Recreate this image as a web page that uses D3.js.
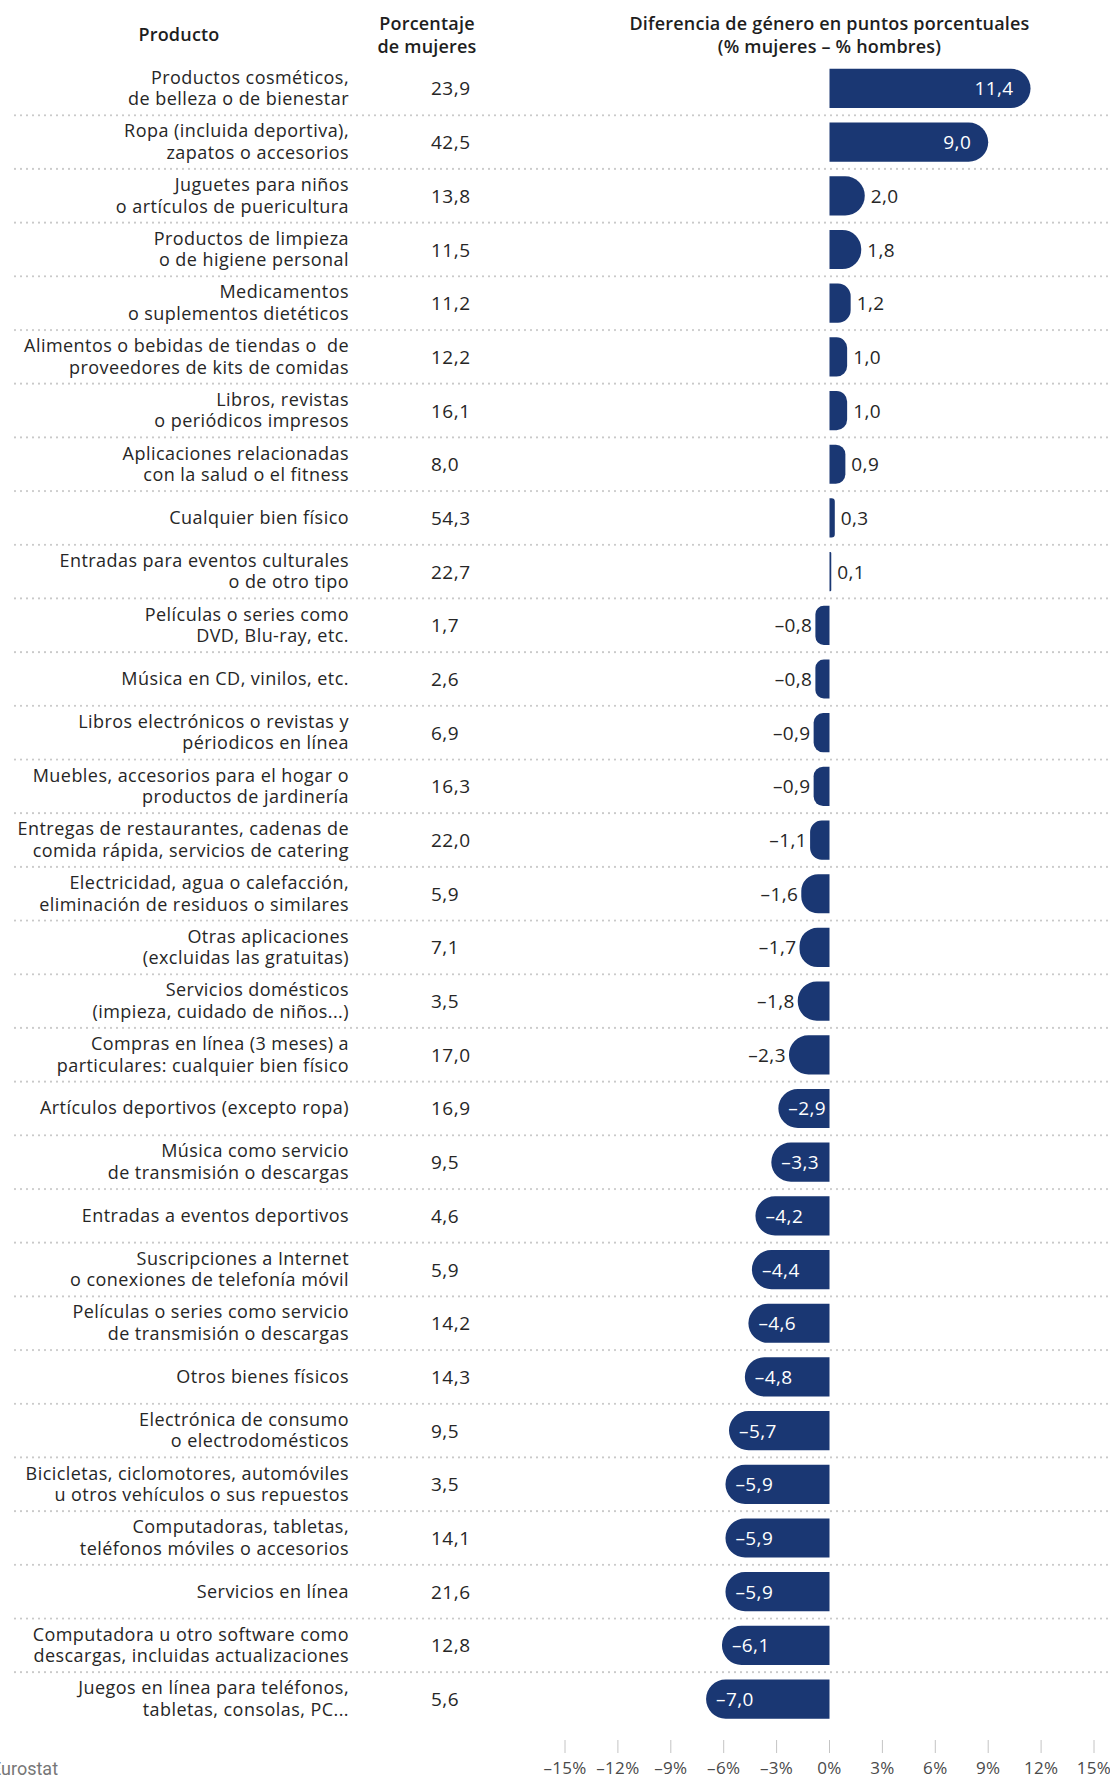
<!DOCTYPE html>
<html>
<head>
<meta charset="utf-8">
<script src="https://cdn.jsdelivr.net/npm/d3@7"></script>
<style>
  body { margin: 0; background: #fff; }
  svg { display: block; font-family: "Open Sans", "Noto Sans", sans-serif; }
</style>
</head>
<body>
<div id="chart"></div>
<script>
const productos = [
  ["Productos cosméticos,", "de belleza o de bienestar"],
  ["Ropa (incluida deportiva),", "zapatos o accesorios"],
  ["Juguetes para niños", "o artículos de puericultura"],
  ["Productos de limpieza", "o de higiene personal"],
  ["Medicamentos", "o suplementos dietéticos"],
  ["Alimentos o bebidas de tiendas o  de", "proveedores de kits de comidas"],
  ["Libros, revistas", "o periódicos impresos"],
  ["Aplicaciones relacionadas", "con la salud o el fitness"],
  ["Cualquier bien físico"],
  ["Entradas para eventos culturales", "o de otro tipo"],
  ["Películas o series como", "DVD, Blu-ray, etc."],
  ["Música en CD, vinilos, etc."],
  ["Libros electrónicos o revistas y", "périodicos en línea"],
  ["Muebles, accesorios para el hogar o", "productos de jardinería"],
  ["Entregas de restaurantes, cadenas de", "comida rápida, servicios de catering"],
  ["Electricidad, agua o calefacción,", "eliminación de residuos o similares"],
  ["Otras aplicaciones", "(excluidas las gratuitas)"],
  ["Servicios domésticos", "(impieza, cuidado de niños...)"],
  ["Compras en línea (3 meses) a", "particulares: cualquier bien físico"],
  ["Artículos deportivos (excepto ropa)"],
  ["Música como servicio", "de transmisión o descargas"],
  ["Entradas a eventos deportivos"],
  ["Suscripciones a Internet", "o conexiones de telefonía móvil"],
  ["Películas o series como servicio", "de transmisión o descargas"],
  ["Otros bienes físicos"],
  ["Electrónica de consumo", "o electrodomésticos"],
  ["Bicicletas, ciclomotores, automóviles", "u otros vehículos o sus repuestos"],
  ["Computadoras, tabletas,", "teléfonos móviles o accesorios"],
  ["Servicios en línea"],
  ["Computadora u otro software como", "descargas, incluidas actualizaciones"],
  ["Juegos en línea para teléfonos,", "tabletas, consolas, PC..."]
];

const porcentajeMujeres = [23.9, 42.5, 13.8, 11.5, 11.2, 12.2, 16.1, 8.0, 54.3, 22.7,
  1.7, 2.6, 6.9, 16.3, 22.0, 5.9, 7.1, 3.5, 17.0, 16.9,
  9.5, 4.6, 5.9, 14.2, 14.3, 9.5, 3.5, 14.1, 21.6, 12.8, 5.6];

const diferencia = [11.4, 9.0, 2.0, 1.8, 1.2, 1.0, 1.0, 0.9, 0.3, 0.1,
  -0.8, -0.8, -0.9, -0.9, -1.1, -1.6, -1.7, -1.8, -2.3, -2.9,
  -3.3, -4.2, -4.4, -4.6, -4.8, -5.7, -5.9, -5.9, -5.9, -6.1, -7.0];

const ticks = [-15, -12, -9, -6, -3, 0, 3, 6, 9, 12, 15];

const width = 1110, height = 1780;
const barColor = "#1a3773";
const textColor = "#262626";

const data = productos.map((p, i) => ({
  id: i,
  lines: p,
  mujeres: porcentajeMujeres[i],
  dif: diferencia[i]
}));

const fmt = v => d3.format(".1f")(Math.abs(v)).replace(".", ",");
const fmtSigned = v => (v < 0 ? "\u2013" : "") + fmt(v);

const svg = d3.select("#chart")
  .append("svg")
  .attr("width", width)
  .attr("height", height);

const x = d3.scaleLinear().domain([-15, 15]).range([565, 1094]);

const y = d3.scaleBand()
  .domain(data.map(d => d.id))
  .range([61.6, 1725.9])
  .paddingInner(0.27)
  .paddingOuter(0.135);

// cabeceras
const header = svg.append("g")
  .attr("fill", "#1e1e1e")
  .style("font-size", "18px")
  .style("font-weight", 600)
  .style("letter-spacing", "0.2px")
  .attr("text-anchor", "middle");

header.append("text").attr("x", 179).attr("y", 41).text("Producto");
header.append("text").attr("x", 427).attr("y", 30).text("Porcentaje");
header.append("text").attr("x", 427).attr("y", 53).text("de mujeres");
header.append("text").attr("x", x(0)).attr("y", 30).text("Diferencia de género en puntos porcentuales");
header.append("text").attr("x", x(0)).attr("y", 53).text("(% mujeres \u2013 % hombres)");

// separadores punteados entre filas
svg.append("g")
  .selectAll("line")
  .data(data.slice(1))
  .join("line")
  .attr("x1", 15)
  .attr("x2", width)
  .attr("y1", d => y(d.id) - y.step() * y.paddingInner() / 2)
  .attr("y2", d => y(d.id) - y.step() * y.paddingInner() / 2)
  .attr("stroke", "#c9c9c9")
  .attr("stroke-width", 2.2)
  .attr("stroke-linecap", "round")
  .attr("stroke-dasharray", "0,6");

const rows = svg.append("g")
  .selectAll("g")
  .data(data)
  .join("g")
  .attr("transform", d => `translate(0,${y(d.id) + y.bandwidth() / 2})`);

// etiquetas de producto
rows.append("text")
  .attr("text-anchor", "end")
  .attr("fill", textColor)
  .style("font-size", "18px")
  .style("letter-spacing", "0.45px")
  .style("white-space", "pre")
  .each(function(d) {
    const t = d3.select(this);
    const n = d.lines.length;
    d.lines.forEach((l, k) => {
      t.append("tspan")
        .attr("x", 349)
        .attr("y", (k - (n - 1) / 2) * 21.5 + 6)
        .text(l);
    });
  });

// porcentaje de mujeres
rows.append("text")
  .attr("x", 431)
  .attr("y", 7)
  .attr("fill", textColor)
  .style("font-size", "19px")
  .style("letter-spacing", "0.5px")
  .text(d => fmt(d.mujeres));

// barras con extremo redondeado
function barPath(d) {
  const h = y.bandwidth();
  const x0 = x(0), x1 = x(d.dif);
  const len = Math.abs(x1 - x0);
  const r = Math.min(h / 2, len * 0.6);
  const s = d.dif >= 0 ? 1 : -1;
  const sweep = s > 0 ? 1 : 0;
  const top = -h / 2, bot = h / 2;
  return `M${x0},${top} H${x1 - s * r} A${r},${r} 0 0 ${sweep} ${x1},${top + r}` +
    ` V${bot - r} A${r},${r} 0 0 ${sweep} ${x1 - s * r},${bot} H${x0} Z`;
}

rows.append("path")
  .attr("d", barPath)
  .attr("fill", barColor);

// etiquetas de valor
const inside = d => Math.abs(x(d.dif) - x(0)) > 45;

rows.append("text")
  .attr("y", 7)
  .style("font-size", "19px")
  .style("letter-spacing", "0.4px")
  .attr("fill", d => inside(d) ? "#fff" : textColor)
  .attr("text-anchor", d => (d.dif >= 0) === inside(d) ? "end" : "start")
  .attr("x", d => {
    const xe = x(d.dif);
    if (inside(d)) return d.dif >= 0 ? xe - 17 : xe + 10;
    return d.dif >= 0 ? xe + 6 : xe - 3;
  })
  .text(d => fmtSigned(d.dif));

// eje inferior
const axis = svg.append("g");

axis.selectAll("line")
  .data(ticks)
  .join("line")
  .attr("x1", d => x(d))
  .attr("x2", d => x(d))
  .attr("y1", 1740)
  .attr("y2", 1753)
  .attr("stroke", "#c4c4c4")
  .attr("stroke-width", 1);

axis.selectAll("text")
  .data(ticks)
  .join("text")
  .attr("x", d => x(d))
  .attr("y", 1774)
  .attr("text-anchor", "middle")
  .attr("fill", "#4a4a4a")
  .style("font-size", "17px")
  .style("letter-spacing", "0.3px")
  .text(d => (d < 0 ? "\u2013" : "") + Math.abs(d) + "%");

// fuente
svg.append("text")
  .attr("x", -9)
  .attr("y", 1775)
  .attr("fill", "#777")
  .style("font-family", "Roboto, sans-serif")
  .style("font-size", "18px")
  .text("Eurostat");
</script>
</body>
</html>
